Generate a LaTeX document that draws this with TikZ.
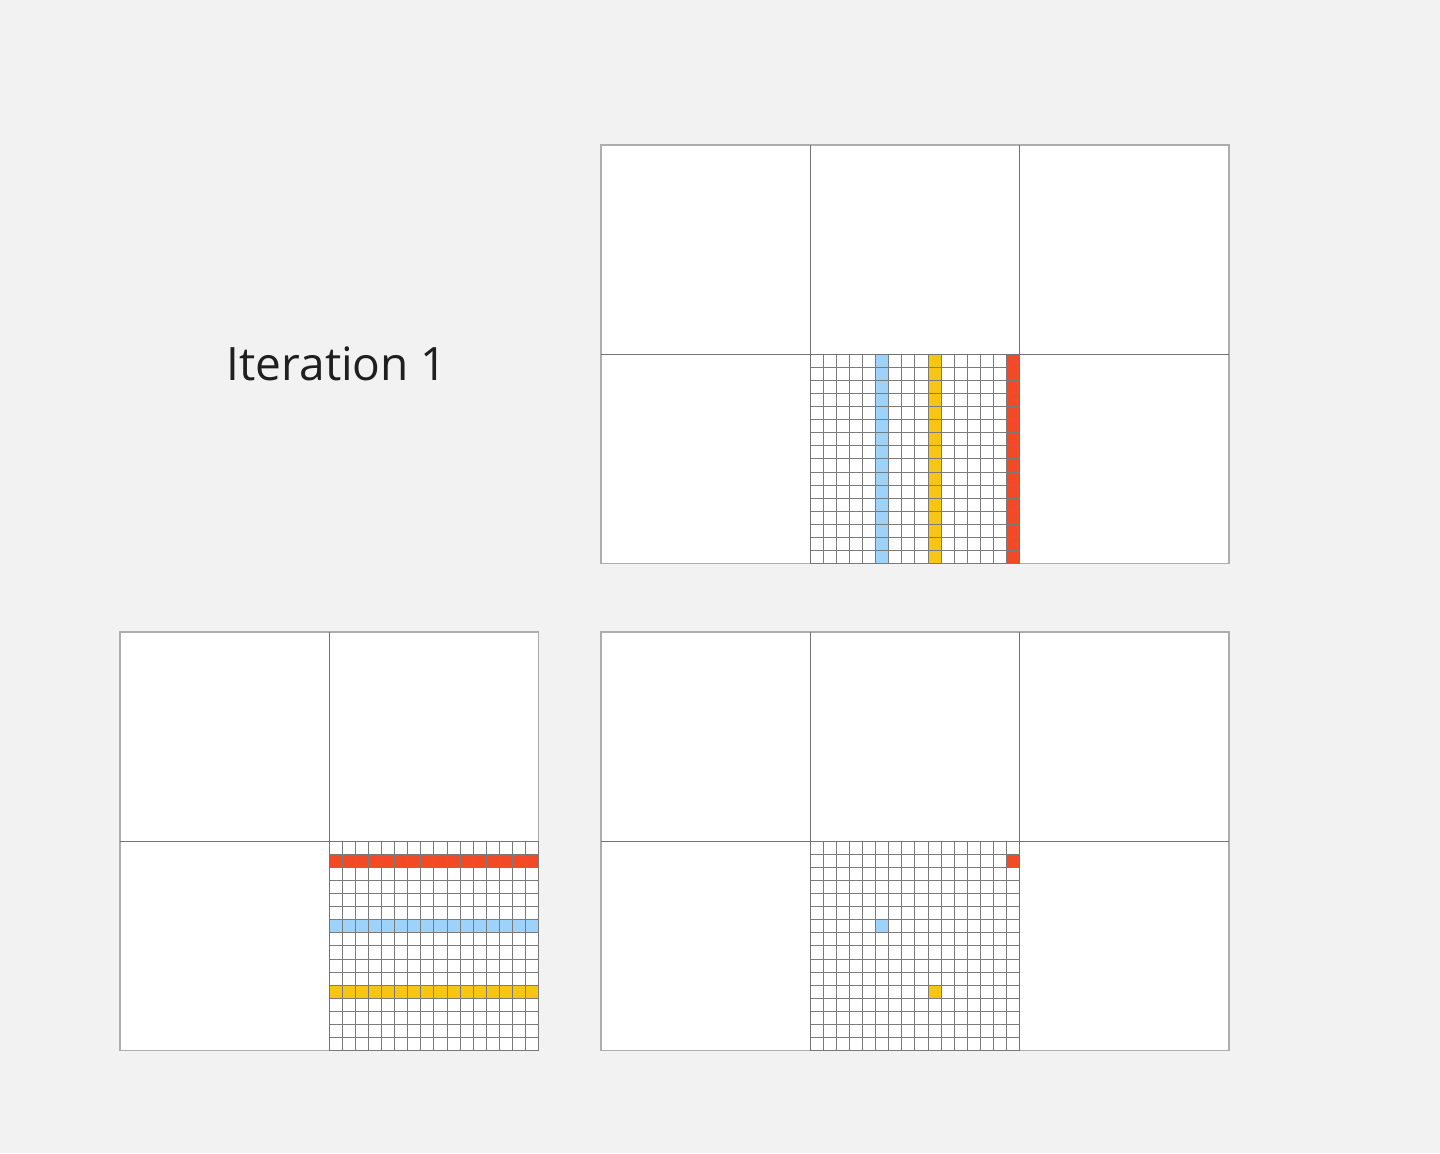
\documentclass[tikz,border=0pt]{standalone}
\usepackage{fontspec}
\setmainfont{Open Sans}
\usetikzlibrary{positioning}
\definecolor{pagebg}{HTML}{F2F2F2}
\definecolor{hotred}{HTML}{F24A26}
\definecolor{hotblue}{HTML}{9DD3FB}
\definecolor{hotyel}{HTML}{F8C612}
\tikzset{
  frm/.style   = {draw=black!32, fill=white, line width=0.7pt},
  split/.style = {draw=black!55, line width=0.6pt},
  fine/.style  = {draw=black!52, line width=0.5pt},
  ttl/.style   = {font=\fontsize{23}{27}\selectfont, text=black!88, inner sep=0pt},
}
\newcommand{\cellw}{209.3}
\newcommand{\subw}{13.08125}
% 16x16 sub grid in the cell whose top-left corner is (#1,#2)
\newcommand{\finegrid}[2]{%
  \foreach \k in {0,...,16} {
    \draw[fine] ({#1+\k*\subw},#2) -- ++(0,\cellw);
    \draw[fine] (#1,{#2+\k*\subw}) -- ++(\cellw,0);
  }}
% one filled sub cell: corner of the cell, column, row, colour
\newcommand{\hotcell}[5]{%
  \fill[#5] ({#1+#3*\subw},{#2+#4*\subw}) rectangle ++(\subw,\subw);}

\begin{document}
\begin{tikzpicture}[x=0.5pt, y=-0.5pt]
\fill[pagebg] (0,0) rectangle (1440,1153);
\useasboundingbox (0,0) rectangle (1440,1153);

\node[ttl] (title) at (337,364) {Iteration 1};

% --- top panel: 3 x 2 cells, columns of the middle lower cell marked ---------------
\draw[frm] (601,145) rectangle ++({3*\cellw},{2*\cellw});
\foreach \r in {0,...,15} {
  \hotcell{810.3}{354.3}{5}{\r}{hotblue}
  \hotcell{810.3}{354.3}{9}{\r}{hotyel}
  \hotcell{810.3}{354.3}{15}{\r}{hotred}
}
\finegrid{810.3}{354.3}
\draw[split] (810.3,145) -- ++(0,{2*\cellw});
\draw[split] (1019.6,145) -- ++(0,{2*\cellw});
\draw[split] (601,354.3) -- ++({3*\cellw},0);

% --- bottom left panel: 2 x 2 cells, rows marked -------------------------------------
\draw[frm] (120,632) rectangle ++({2*\cellw},{2*\cellw});
\foreach \c in {0,...,15} {
  \hotcell{329.3}{841.3}{\c}{1}{hotred}
  \hotcell{329.3}{841.3}{\c}{6}{hotblue}
  \hotcell{329.3}{841.3}{\c}{11}{hotyel}
}
\finegrid{329.3}{841.3}
\draw[split] (329.3,632) -- ++(0,{2*\cellw});
\draw[split] (120,841.3) -- ++({2*\cellw},0);

% --- bottom right panel: only the crossing sub cells --------------------------------
\draw[frm] (601,632) rectangle ++({3*\cellw},{2*\cellw});
\hotcell{810.3}{841.3}{15}{1}{hotred}
\hotcell{810.3}{841.3}{5}{6}{hotblue}
\hotcell{810.3}{841.3}{9}{11}{hotyel}
\finegrid{810.3}{841.3}
\draw[split] (810.3,632) -- ++(0,{2*\cellw});
\draw[split] (1019.6,632) -- ++(0,{2*\cellw});
\draw[split] (601,841.3) -- ++({3*\cellw},0);
\end{tikzpicture}
\end{document}
